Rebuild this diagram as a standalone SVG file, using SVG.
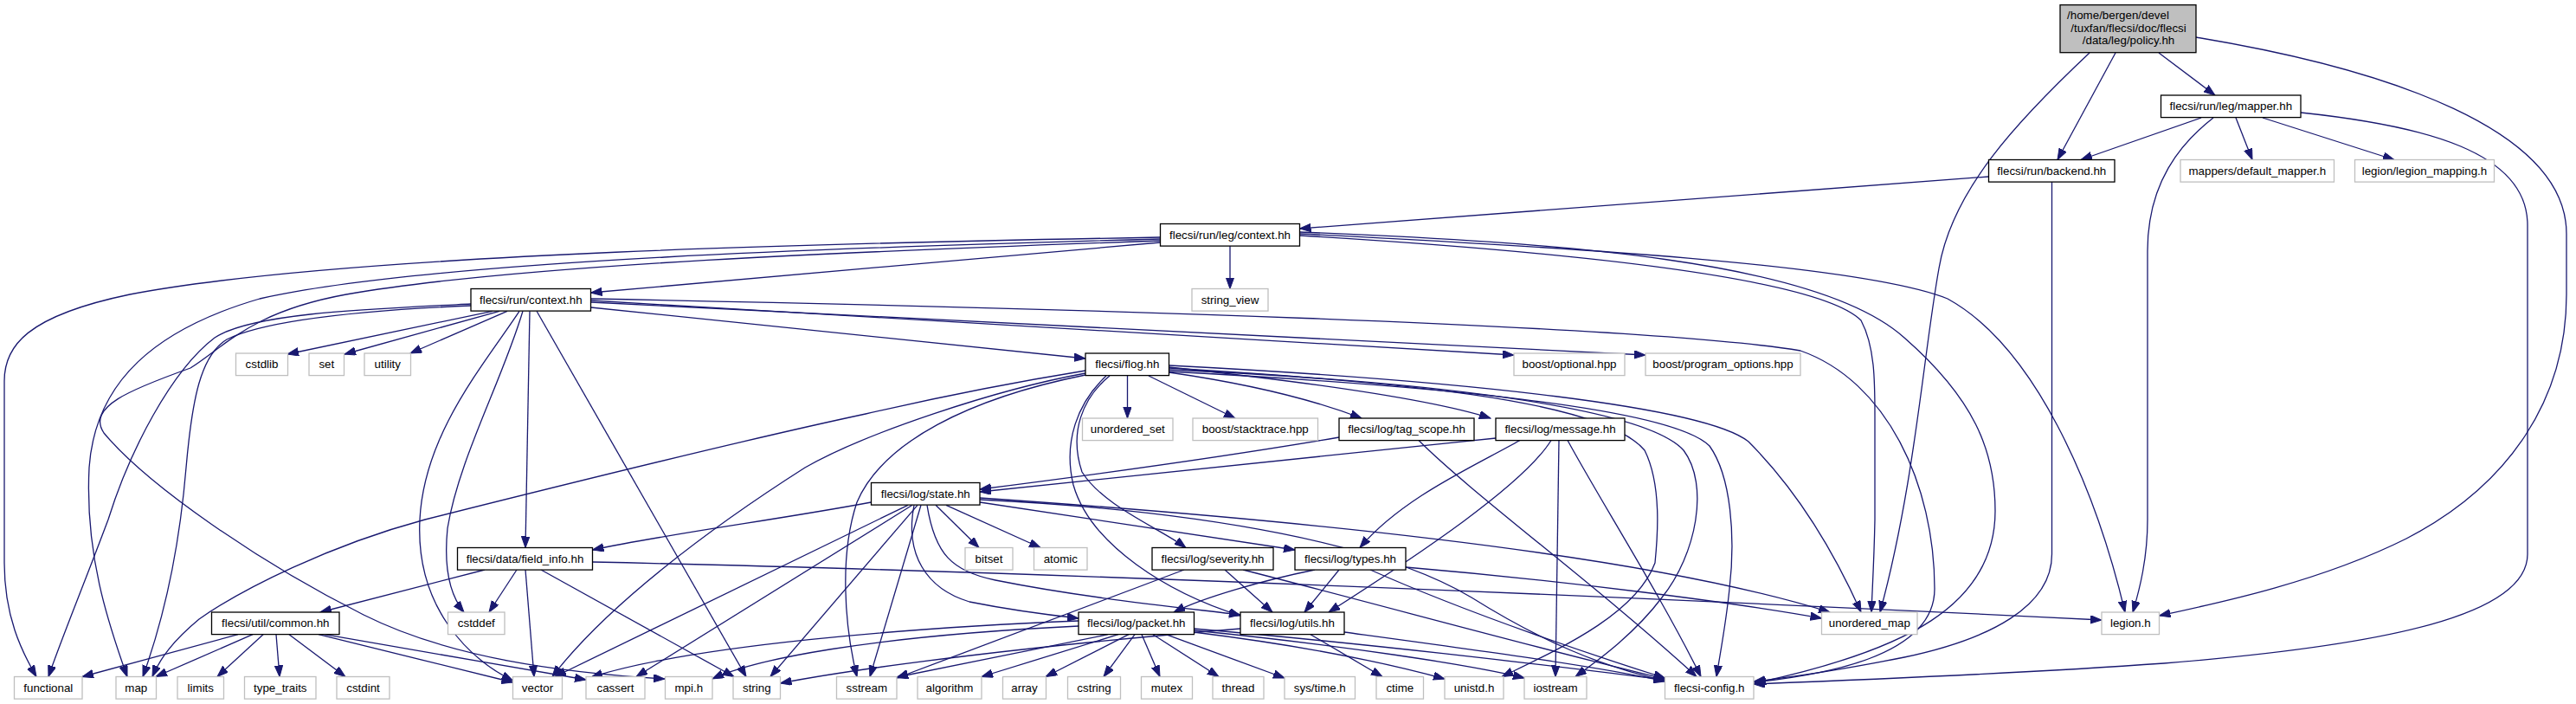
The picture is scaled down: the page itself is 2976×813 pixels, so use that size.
<svg xmlns="http://www.w3.org/2000/svg" width="2976" height="813" viewBox="0 0 2976 813">
<style>
.n rect{fill:#fff;stroke:#000;stroke-width:1.3}
.g rect{fill:#fff;stroke:#bfbfbf;stroke-width:1.3}
#root rect{fill:#bfbfbf}
text{font-family:"Liberation Sans",Arial,sans-serif;font-size:13.33px;text-anchor:middle;fill:#000}
#edges path{fill:none;stroke:#191970;stroke-width:1.3;marker-end:url(#a)}
</style>
<defs>
<marker id="a" markerUnits="userSpaceOnUse" markerWidth="14" markerHeight="10" refX="13" refY="4.7" orient="auto"><path d="M0,0 L13,4.7 L0,9.4z" fill="#191970" stroke="#191970" stroke-width="1"/></marker>
</defs>
<rect width="2976" height="813" fill="#fff"/>
<g id="edges">
<path d="M2494,61 L2559,110"/>
<path d="M2444,61 L2377,184.5"/>
<path d="M2414,61 C2330,140 2255,220 2240,310 C2222,410 2212,560 2172,707"/>
<path d="M2537,43 C2760,80 2965,150 2965,270 L2965,340 C2965,460 2900,560 2780,622 C2680,672 2560,697 2494.5,711"/>
<path d="M2543,136 L2404,184.5"/>
<path d="M2583,136 L2602,184.5"/>
<path d="M2614,136 L2766,184.5"/>
<path d="M2557,136 C2520,165 2481,210 2481,290 L2481,600 C2481,645 2472,680 2464,707"/>
<path d="M2658,130 C2800,145 2920,175 2920,260 L2920,640 C2920,710 2760,745 2500,766 C2330,778 2130,786 2026,790"/>
<path d="M2297.5,204 L1501.5,264"/>
<path d="M2370.5,210 L2370.5,640 C2370.5,700 2300,738 2200,759 C2130,773 2070,782 2026,787"/>
<path d="M1421,284 L1421,333.5"/>
<path d="M1340.5,280 L682.5,338"/>
<path d="M1340.5,274 C1000,280 400,292 150,340 C30,365 5,400 5,440 L5,650 C5,712 25,752 42,781.5"/>
<path d="M1340.5,276 C1000,285 500,300 300,345 C180,380 110,440 103,540 C98,640 125,720 147,781.5"/>
<path d="M1340.5,278 C1000,290 600,305 400,340 C290,360 260,400 220,425 C150,450 100,470 120,500 C170,560 300,650 420,710 C520,760 650,777 768,784"/>
<path d="M1501.5,270 C1800,285 2150,305 2250,345 C2350,400 2420,560 2455,707"/>
<path d="M1501.5,272 C1800,290 2100,320 2150,370 C2166,400 2166,440 2166,480 L2166,600 C2165,650 2163,680 2162,707"/>
<path d="M1501.5,268 C1800,280 2100,300 2200,390 C2280,460 2305,520 2305,590 C2305,700 2200,752 2027,789"/>
<path d="M569,359.3 L332,409"/>
<path d="M577,359.3 L398,409"/>
<path d="M586,359.3 L474,408"/>
<path d="M600,359.3 C560,420 490,500 485,600 C480,700 540,760 592.5,786"/>
<path d="M604,359.3 C580,440 530,530 517,610 C512,660 522,690 536,707"/>
<path d="M612,359.3 L607,632.5"/>
<path d="M620,359.3 L862,781.5"/>
<path d="M544,351 C420,357 290,362 248,390 C198,428 150,520 125,600 C95,680 70,740 56,781.5"/>
<path d="M544,353 C430,358 310,368 262,392 C232,410 222,460 215,540 C205,660 180,740 165,781.5"/>
<path d="M682.5,355 L1254,414"/>
<path d="M682.5,347 L1749,410"/>
<path d="M682.5,349 L1901,410"/>
<path d="M682.5,345 C1200,355 1900,375 2080,405 C2180,440 2235,560 2235,680 C2235,760 2100,780 2027,788"/>
<path d="M1302.5,434 L1302.5,483"/>
<path d="M1327,434 L1427,483"/>
<path d="M1350.5,430 C1420,440 1500,455 1573,483"/>
<path d="M1350.5,424 C1500,440 1650,460 1722,483"/>
<path d="M1282,434 C1250,460 1235,500 1250,545 C1275,585 1340,610 1370,632.5"/>
<path d="M1278,434 C1245,465 1228,510 1240,560 C1260,630 1350,685 1433,711"/>
<path d="M1254,428 C1180,440 1100,455 1000,478 C850,510 650,560 491,600 C380,630 280,680 230,715 C200,740 185,760 176,781.5"/>
<path d="M1254,431 C1150,450 1000,500 930,540 C820,610 700,700 638,781.5"/>
<path d="M1254,433 C1120,460 1020,510 990,580 C970,640 975,720 990,781.5"/>
<path d="M1350.5,425 C1600,440 1850,460 1900,520 C1920,560 1915,620 1912,650 C1890,710 1800,750 1735,781.5"/>
<path d="M1350.5,427 C1650,440 1900,470 1945,520 C1975,560 1960,640 1920,690 C1890,730 1850,760 1820,781.5"/>
<path d="M1350.5,429 C1650,445 1930,470 1975,515 C2000,550 2005,620 1998,680 C1994,720 1988,750 1983,781.5"/>
<path d="M1350.5,422 C1700,440 1970,470 2020,510 C2080,570 2120,640 2150,707"/>
<path d="M1547,505 C1400,530 1250,550 1132,565"/>
<path d="M1639,508.5 C1700,570 1850,680 1960,781.5"/>
<path d="M1728,506 C1500,530 1300,550 1132,568"/>
<path d="M1756,508.5 C1700,540 1620,575 1571,632.5"/>
<path d="M1792,508.5 C1760,560 1640,640 1535,707"/>
<path d="M1801,508.5 L1797,781.5"/>
<path d="M1811,508.5 C1850,580 1920,690 1965,781.5"/>
<path d="M1081,583.3 L1131,632.5"/>
<path d="M1093,583.3 L1202,632.5"/>
<path d="M1006.5,580 C900,600 780,615 684.5,635"/>
<path d="M1049,583.3 L641,781.5"/>
<path d="M1054,583.3 L735,781.5"/>
<path d="M1060,583.3 L890,781.5"/>
<path d="M1064,583.3 L1005,781.5"/>
<path d="M1056,583.3 C1045,640 1070,680 1120,695 C1170,705 1210,710 1246,714"/>
<path d="M1071,583.3 C1080,640 1100,660 1150,670 C1250,690 1350,700 1433,710"/>
<path d="M1132,580 L1496,635"/>
<path d="M1132,575 C1500,600 1900,640 2114,707"/>
<path d="M1132,577 C1400,590 1600,630 1700,690 C1780,740 1850,770 1923.5,786"/>
<path d="M560,658 L370,707"/>
<path d="M597,658 L565,707"/>
<path d="M607,658 L617,781.5"/>
<path d="M625,658 L848,781.5"/>
<path d="M684.5,649 C1200,660 1900,690 2428,716"/>
<path d="M275,732.7 L95,781.5"/>
<path d="M292,732.7 L180,781.5"/>
<path d="M304,732.7 L251,781.5"/>
<path d="M319,732.7 L323,781.5"/>
<path d="M334,732.7 L399,781.5"/>
<path d="M368,732.7 L592.5,788"/>
<path d="M375,732.7 C500,755 600,772 677,785"/>
<path d="M1246,717 C1050,725 800,745 683,782"/>
<path d="M1246,723 C1000,735 870,762 823,784"/>
<path d="M1280,732.7 L1036,782"/>
<path d="M1292,732.7 L1134,781.5"/>
<path d="M1304,732.7 L1208,781.5"/>
<path d="M1311,732.7 L1275,781.5"/>
<path d="M1319,732.7 L1340,781.5"/>
<path d="M1332,732.7 L1408,781.5"/>
<path d="M1347,732.7 L1484,783"/>
<path d="M1379,730 C1500,745 1600,765 1669,784"/>
<path d="M1379,728 C1550,745 1700,768 1761,783"/>
<path d="M1379,726 C1600,745 1800,770 1923.5,785"/>
<path d="M1368,658 L1036,783"/>
<path d="M1415,658 L1470,707"/>
<path d="M1436,658 C1600,700 1800,755 1923.5,784"/>
<path d="M1519,658 C1460,670 1390,690 1356,707"/>
<path d="M1547,658 L1507,707"/>
<path d="M1583,658 C1700,710 1850,760 1923.5,783"/>
<path d="M1624,655 C1800,670 2000,695 2104.5,714"/>
<path d="M1433,726 C1200,745 1000,770 901.5,789"/>
<path d="M1514,732.7 L1597,781.5"/>
<path d="M1553,730 C1700,750 1850,770 1923.5,787"/>
</g>
<g id="root" class="n"><rect x="2380" y="5.7" width="157" height="55"/><text x="2447" y="21.5">/home/bergen/devel</text><text x="2459" y="36.5">/tuxfan/flecsi/doc/flecsi</text><text x="2459" y="51">/data/leg/policy.hh</text></g>
<g id="mapper" class="n"><rect x="2496.5" y="110" width="161.5" height="25.6"/><text x="2577.3" y="127.3">flecsi/run/leg/mapper.hh</text></g>
<g id="backend" class="n"><rect x="2297.5" y="184.5" width="145.5" height="25.6"/><text x="2370.3" y="201.8">flecsi/run/backend.hh</text></g>
<g id="default_mapper" class="g"><rect x="2519" y="184.5" width="177.5" height="25.6"/><text x="2607.8" y="201.8">mappers/default_mapper.h</text></g>
<g id="legion_mapping" class="g"><rect x="2720.5" y="184.5" width="161" height="25.6"/><text x="2801" y="201.8">legion/legion_mapping.h</text></g>
<g id="leg_context" class="n"><rect x="1340.5" y="258.5" width="161" height="25.6"/><text x="1421" y="275.8">flecsi/run/leg/context.hh</text></g>
<g id="run_context" class="n"><rect x="544" y="333.5" width="138.5" height="25.6"/><text x="613.3" y="350.8">flecsi/run/context.hh</text></g>
<g id="string_view" class="g"><rect x="1377" y="333.5" width="88" height="25.6"/><text x="1421" y="350.8">string_view</text></g>
<g id="cstdlib" class="g"><rect x="272.5" y="408" width="60" height="25.6"/><text x="302.5" y="425.3">cstdlib</text></g>
<g id="set" class="g"><rect x="357" y="408" width="40.5" height="25.6"/><text x="377.3" y="425.3">set</text></g>
<g id="utility" class="g"><rect x="421" y="408" width="53.5" height="25.6"/><text x="447.8" y="425.3">utility</text></g>
<g id="flog" class="n"><rect x="1254" y="408" width="96.5" height="25.6"/><text x="1302.3" y="425.3">flecsi/flog.hh</text></g>
<g id="boost_optional" class="g"><rect x="1749" y="408" width="128" height="25.6"/><text x="1813" y="425.3">boost/optional.hpp</text></g>
<g id="boost_program_options" class="g"><rect x="1901" y="408" width="179" height="25.6"/><text x="1990.5" y="425.3">boost/program_options.hpp</text></g>
<g id="unordered_set" class="g"><rect x="1250.5" y="483" width="104.5" height="25.6"/><text x="1302.8" y="500.3">unordered_set</text></g>
<g id="boost_stacktrace" class="g"><rect x="1378" y="483" width="144.5" height="25.6"/><text x="1450.3" y="500.3">boost/stacktrace.hpp</text></g>
<g id="tag_scope" class="n"><rect x="1547" y="483" width="156" height="25.6"/><text x="1625" y="500.3">flecsi/log/tag_scope.hh</text></g>
<g id="message" class="n"><rect x="1728" y="483" width="149" height="25.6"/><text x="1802.5" y="500.3">flecsi/log/message.hh</text></g>
<g id="state" class="n"><rect x="1006.5" y="557.5" width="125.5" height="25.6"/><text x="1069.3" y="574.8">flecsi/log/state.hh</text></g>
<g id="field_info" class="n"><rect x="528.5" y="632.5" width="156" height="25.6"/><text x="606.5" y="649.8">flecsi/data/field_info.hh</text></g>
<g id="bitset" class="g"><rect x="1115" y="632.5" width="55" height="25.6"/><text x="1142.5" y="649.8">bitset</text></g>
<g id="atomic" class="g"><rect x="1194.5" y="632.5" width="61.5" height="25.6"/><text x="1225.3" y="649.8">atomic</text></g>
<g id="severity" class="n"><rect x="1331" y="632.5" width="140" height="25.6"/><text x="1401" y="649.8">flecsi/log/severity.hh</text></g>
<g id="types" class="n"><rect x="1496" y="632.5" width="128" height="25.6"/><text x="1560" y="649.8">flecsi/log/types.hh</text></g>
<g id="common" class="n"><rect x="244.5" y="707" width="147.5" height="25.6"/><text x="318.3" y="724.3">flecsi/util/common.hh</text></g>
<g id="cstddef" class="g"><rect x="517.5" y="707" width="65.5" height="25.6"/><text x="550.3" y="724.3">cstddef</text></g>
<g id="packet" class="n"><rect x="1246" y="707" width="133.5" height="25.6"/><text x="1312.8" y="724.3">flecsi/log/packet.hh</text></g>
<g id="utils" class="n"><rect x="1433" y="707" width="120" height="25.6"/><text x="1493" y="724.3">flecsi/log/utils.hh</text></g>
<g id="unordered_map" class="g"><rect x="2104.5" y="707" width="110.5" height="25.6"/><text x="2159.8" y="724.3">unordered_map</text></g>
<g id="legion_h" class="g"><rect x="2428" y="707" width="66.5" height="25.6"/><text x="2461.3" y="724.3">legion.h</text></g>
<g id="functional" class="g"><rect x="16.5" y="781.5" width="78.5" height="25.6"/><text x="55.8" y="798.8">functional</text></g>
<g id="map" class="g"><rect x="134" y="781.5" width="46.5" height="25.6"/><text x="157.3" y="798.8">map</text></g>
<g id="limits" class="g"><rect x="205" y="781.5" width="53.5" height="25.6"/><text x="231.8" y="798.8">limits</text></g>
<g id="type_traits" class="g"><rect x="282.5" y="781.5" width="82.5" height="25.6"/><text x="323.8" y="798.8">type_traits</text></g>
<g id="cstdint" class="g"><rect x="389" y="781.5" width="61" height="25.6"/><text x="419.5" y="798.8">cstdint</text></g>
<g id="vector" class="g"><rect x="592.5" y="781.5" width="57" height="25.6"/><text x="621" y="798.8">vector</text></g>
<g id="cassert" class="g"><rect x="677" y="781.5" width="68" height="25.6"/><text x="711" y="798.8">cassert</text></g>
<g id="mpi_h" class="g"><rect x="768.5" y="781.5" width="54.5" height="25.6"/><text x="795.8" y="798.8">mpi.h</text></g>
<g id="string" class="g"><rect x="847" y="781.5" width="54.5" height="25.6"/><text x="874.3" y="798.8">string</text></g>
<g id="sstream" class="g"><rect x="966.5" y="781.5" width="69.5" height="25.6"/><text x="1001.3" y="798.8">sstream</text></g>
<g id="algorithm" class="g"><rect x="1060" y="781.5" width="74" height="25.6"/><text x="1097" y="798.8">algorithm</text></g>
<g id="array" class="g"><rect x="1158.5" y="781.5" width="50" height="25.6"/><text x="1183.5" y="798.8">array</text></g>
<g id="cstring" class="g"><rect x="1233.5" y="781.5" width="61" height="25.6"/><text x="1264" y="798.8">cstring</text></g>
<g id="mutex" class="g"><rect x="1318.5" y="781.5" width="59" height="25.6"/><text x="1348" y="798.8">mutex</text></g>
<g id="thread" class="g"><rect x="1401" y="781.5" width="59" height="25.6"/><text x="1430.5" y="798.8">thread</text></g>
<g id="sys_time" class="g"><rect x="1484" y="781.5" width="81.5" height="25.6"/><text x="1524.8" y="798.8">sys/time.h</text></g>
<g id="ctime" class="g"><rect x="1590" y="781.5" width="54.5" height="25.6"/><text x="1617.3" y="798.8">ctime</text></g>
<g id="unistd" class="g"><rect x="1669" y="781.5" width="68" height="25.6"/><text x="1703" y="798.8">unistd.h</text></g>
<g id="iostream" class="g"><rect x="1761" y="781.5" width="72" height="25.6"/><text x="1797" y="798.8">iostream</text></g>
<g id="flecsi_config" class="g"><rect x="1923.5" y="781.5" width="102.5" height="25.6"/><text x="1974.8" y="798.8">flecsi-config.h</text></g>
</svg>
